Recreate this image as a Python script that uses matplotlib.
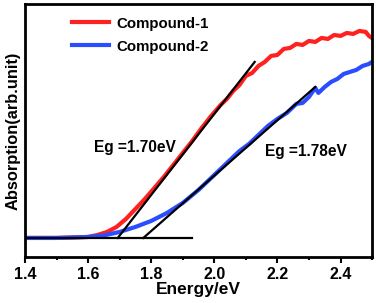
import numpy as np
import matplotlib
matplotlib.use("Agg")
import matplotlib.pyplot as plt
from matplotlib.ticker import MultipleLocator

plt.rcParams['font.family'] = ['Liberation Sans', 'DejaVu Sans']
plt.rcParams['font.weight'] = 'bold'

# Compound-1 (red)
e1 = [1.40, 1.50, 1.56, 1.60, 1.63, 1.66, 1.69, 1.72, 1.75, 1.78, 1.81, 1.84,
      1.87, 1.90, 1.93, 1.96, 1.99, 2.02, 2.04, 2.06, 2.08, 2.10, 2.12, 2.14,
      2.16, 2.18, 2.20, 2.22, 2.24, 2.26, 2.28, 2.30, 2.32, 2.34, 2.36, 2.38,
      2.40, 2.42, 2.44, 2.46, 2.48, 2.49, 2.50]
a1 = [19, 19, 19.5, 20, 22, 25, 30, 38, 48, 58, 69, 80,
      92, 104, 116, 129, 141, 152, 158, 166, 172, 181, 184, 191,
      195, 201, 202, 208, 209, 213, 212, 216, 215, 219, 218, 222,
      221, 224, 223, 226, 225, 221, 219]

# Compound-2 (blue)
e2 = [1.40, 1.50, 1.60, 1.65, 1.70, 1.75, 1.80, 1.85, 1.90, 1.95, 2.00, 2.04,
      2.08, 2.11, 2.14, 2.17, 2.20, 2.23, 2.26, 2.28, 2.30, 2.32, 2.33, 2.35,
      2.37, 2.39, 2.41, 2.43, 2.45, 2.47, 2.49, 2.50]
a2 = [19, 19, 20, 21.5, 25, 30, 36, 44, 54, 67, 82, 94,
      106, 113, 122, 131, 138, 144, 153, 154, 160, 169, 164, 170,
      175, 178, 183, 185, 187, 191, 193, 195]

# tangent lines used for the band gap
fit1_x = [1.694, 2.128]
fit1_y = [19, 195]
fit2_x = [1.775, 2.32]
fit2_y = [19, 170]
base_x = [1.40, 1.93]
base_y = [19, 19]

fig = plt.figure(figsize=(3.76, 3.03), dpi=100)
ax = fig.add_axes([0.0665, 0.152, 0.923, 0.835])

ax.plot(e1, a1, color='#ff2020', lw=3, label='Compound-1')
ax.plot(e2, a2, color='#2a4dff', lw=3, label='Compound-2')
ax.plot(fit1_x, fit1_y, color='black', lw=1.6)
ax.plot(fit2_x, fit2_y, color='black', lw=1.6)
ax.plot(base_x, base_y, color='black', lw=1.6)

ax.text(1.748, 109, 'Eg =1.70eV', ha='center', va='center', fontsize=11.2, fontweight='bold')
ax.text(2.289, 105, 'Eg =1.78eV', ha='center', va='center', fontsize=11.2, fontweight='bold')

ax.set_xlim(1.4, 2.5)
ax.set_ylim(0, 253)
ax.xaxis.set_major_locator(MultipleLocator(0.2))
ax.xaxis.set_minor_locator(MultipleLocator(0.1))
ax.set_yticks([])
ax.tick_params(axis='x', which='major', length=4, width=1.5, labelsize=11.5, pad=3)
ax.tick_params(axis='x', which='minor', length=2.5, width=1.5)
for s in ax.spines.values():
    s.set_linewidth(2)

ax.set_xlabel('Energy/eV', fontsize=12.5, fontweight='bold', labelpad=0)
ax.set_ylabel('Absorption(arb.unit)', fontsize=11.8, fontweight='bold', labelpad=3)

ax.legend(loc='upper left', bbox_to_anchor=(0.135, 0.95), frameon=False,
          fontsize=10.8, handlelength=2.5, handletextpad=0.5,
          borderaxespad=0, borderpad=0, labelspacing=0.6)

fig.savefig('out.png', dpi=100)
